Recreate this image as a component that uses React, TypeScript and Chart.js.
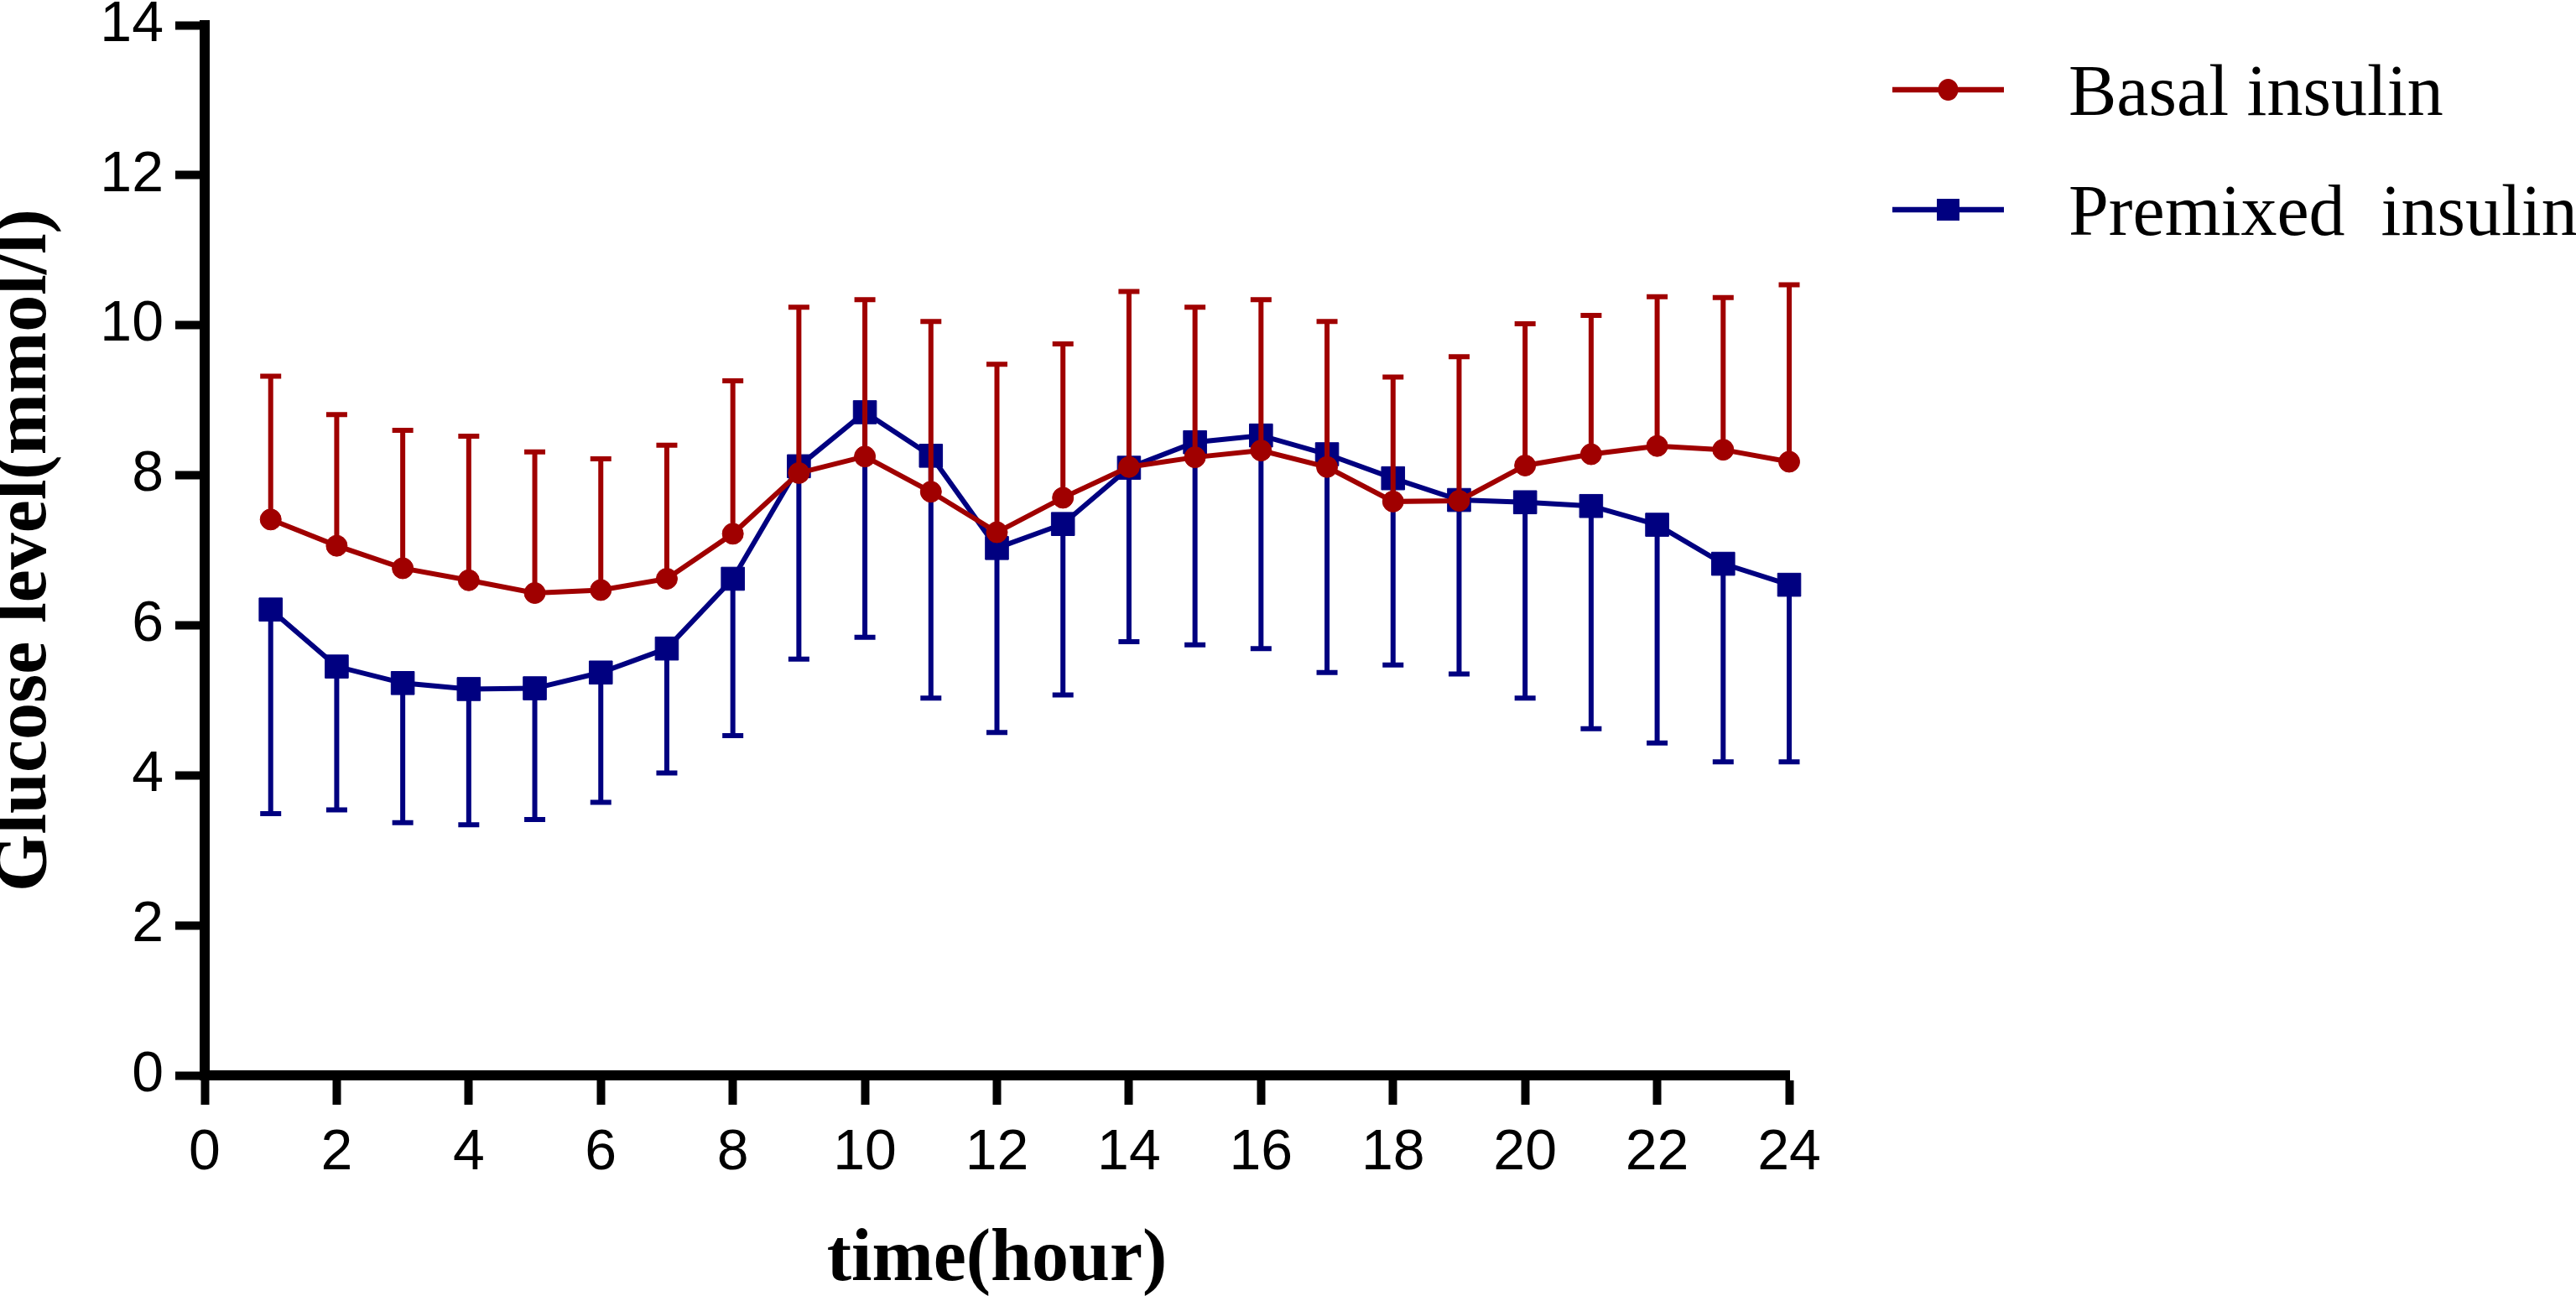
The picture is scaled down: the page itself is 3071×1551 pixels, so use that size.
import React, { useEffect, useRef } from 'react';
import { Chart, registerables } from 'chart.js';

Chart.register(...registerables);

// ---- data ----
const hours = [1, 2, 3, 4, 5, 6, 7, 8, 9, 10, 11, 12, 13, 14, 15, 16, 17, 18, 19, 20, 21, 22, 23, 24];
const basalMean = [7.41, 7.06, 6.76, 6.6, 6.43, 6.47, 6.62, 7.22, 8.03, 8.25, 7.78, 7.24, 7.7, 8.11, 8.24, 8.33, 8.11, 7.65, 7.66, 8.13, 8.28, 8.39, 8.34, 8.18];
const basalSD = [1.91, 1.75, 1.84, 1.92, 1.88, 1.75, 1.78, 2.04, 2.21, 2.09, 2.27, 2.24, 2.05, 2.34, 2.0, 2.01, 1.94, 1.66, 1.92, 1.89, 1.85, 1.99, 2.03, 2.36];
const premixedMean = [6.21, 5.45, 5.23, 5.15, 5.16, 5.37, 5.69, 6.62, 8.12, 8.84, 8.26, 7.03, 7.35, 8.1, 8.44, 8.53, 8.28, 7.96, 7.67, 7.64, 7.59, 7.34, 6.82, 6.54];
const premixedSD = [2.72, 1.91, 1.86, 1.81, 1.75, 1.73, 1.66, 2.09, 2.57, 3.0, 3.23, 2.46, 2.28, 2.32, 2.7, 2.84, 2.91, 2.49, 2.32, 2.61, 2.97, 2.91, 2.64, 2.36];
const xTickValues = [0, 2, 4, 6, 8, 10, 12, 14, 16, 18, 20, 22, 24];
const yTickValues = [0, 2, 4, 6, 8, 10, 12, 14];
const seriesNames = ['Basal insulin', 'Premixed  insulin'];
const xTitle = 'time(hour)';
const yTitle = 'Glucose level(mmol/l)';

const RED = '#A00000';
const BLUE = '#000080';

// error bars: direction +1 = upward (mean + SD), -1 = downward (mean - SD)
const errorInfo: Record<string, { sd: number[]; dir: number }> = {
  [seriesNames[0]]: { sd: basalSD, dir: 1 },
  [seriesNames[1]]: { sd: premixedSD, dir: -1 },
};

const errorBarPlugin = {
  id: 'errorBars',
  beforeDatasetDraw(chart: any, args: any) {
    const ds = chart.data.datasets[args.index];
    const info = errorInfo[ds.label];
    if (!info) return;
    const yScale = chart.scales.y;
    const ctx = chart.ctx;
    ctx.save();
    ctx.strokeStyle = ds.borderColor;
    ctx.lineWidth = 6;
    ctx.lineCap = 'butt';
    args.meta.data.forEach((pt: any, i: number) => {
      const v = ds.data[i].y + info.dir * info.sd[i];
      const py = yScale.getPixelForValue(v);
      ctx.beginPath();
      ctx.moveTo(pt.x, pt.y);
      ctx.lineTo(pt.x, py);
      ctx.moveTo(pt.x - 12.5, py);
      ctx.lineTo(pt.x + 12.5, py);
      ctx.stroke();
    });
    ctx.restore();
  },
};

const sideLegendPlugin = {
  id: 'sideLegend',
  afterDraw(chart: any) {
    const ctx = chart.ctx;
    const right = chart.chartArea.right;
    const x0 = right + 123;
    const x1 = right + 256;
    const xm = (x0 + x1) / 2;
    const xt = right + 333;
    chart.data.datasets.forEach((ds: any, i: number) => {
      const y = 107 + i * 143;
      ctx.save();
      ctx.strokeStyle = ds.borderColor;
      ctx.fillStyle = ds.borderColor;
      ctx.lineWidth = 6.5;
      ctx.beginPath();
      ctx.moveTo(x0, y);
      ctx.lineTo(x1, y);
      ctx.stroke();
      if (ds.pointStyle === 'rect') {
        ctx.fillRect(xm - 13.5, y - 13, 27, 26);
      } else {
        ctx.beginPath();
        ctx.ellipse(xm, y, 12, 13, 0, 0, Math.PI * 2);
        ctx.fill();
      }
      ctx.fillStyle = '#000';
      ctx.font = "86px 'Liberation Serif'";
      ctx.textAlign = 'left';
      ctx.textBaseline = 'alphabetic';
      ctx.fillText(ds.label, xt, y + 30);
      ctx.restore();
    });
  },
};

export default function App() {
  const canvasRef = useRef<HTMLCanvasElement | null>(null);

  useEffect(() => {
    document.body.style.margin = '0';
    const canvas = canvasRef.current;
    if (!canvas) return;

    const makeData = (vals: number[]) => hours.map((h, i) => ({ x: h, y: vals[i] }));

    const tickFont = { family: "'Liberation Sans', Arial, sans-serif", size: 68 };
    const titleFont = { family: "'Liberation Serif', 'Times New Roman', serif", size: 88, weight: 'bold' as const, lineHeight: 0.7 };

    const chart = new Chart(canvas, {
      type: 'line',
      data: {
        datasets: [
          {
            label: seriesNames[0],
            data: makeData(basalMean),
            borderColor: RED,
            backgroundColor: RED,
            pointBackgroundColor: RED,
            pointBorderColor: RED,
            pointStyle: 'circle',
            pointRadius: 12.5,
            pointBorderWidth: 1,
            borderWidth: 6,
            tension: 0,
            fill: false,
          },
          {
            label: seriesNames[1],
            data: makeData(premixedMean),
            borderColor: BLUE,
            backgroundColor: BLUE,
            pointBackgroundColor: BLUE,
            pointBorderColor: BLUE,
            pointStyle: 'rect',
            pointRadius: 19.5,
            pointBorderWidth: 1,
            borderWidth: 6,
            tension: 0,
            fill: false,
          },
        ],
      },
      options: {
        responsive: false,
        animation: false,
        devicePixelRatio: 1,
        events: [],
        clip: false as any,
        layout: { padding: { left: 0, top: 30, right: 938, bottom: 0 } },
        plugins: {
          legend: { display: false },
          tooltip: { enabled: false },
        },
        scales: {
          x: {
            type: 'linear',
            min: 0,
            max: 24,
            afterBuildTicks: (scale: any) => {
              scale.ticks = xTickValues.map((v) => ({ value: v }));
            },
            afterFit: (scale: any) => {
              scale.height = 269;
              scale.paddingLeft = 0;
              scale.paddingRight = 0;
            },
            ticks: { font: tickFont, color: '#000', padding: 17, maxRotation: 0, autoSkip: false },
            grid: { drawOnChartArea: false, drawTicks: true, tickLength: 35, tickWidth: 10, tickColor: '#000' },
            border: { display: true, width: 12, color: '#000' },
            title: { display: true, text: xTitle, font: titleFont, color: '#000', padding: { top: 0, bottom: 17 } },
          },
          y: {
            type: 'linear',
            min: 0,
            max: 14,
            afterBuildTicks: (scale: any) => {
              scale.ticks = yTickValues.map((v) => ({ value: v }));
            },
            afterFit: (scale: any) => {
              scale.width = 244;
              scale.paddingTop = 0;
              scale.paddingBottom = 0;
            },
            ticks: { font: tickFont, color: '#000', padding: 14, autoSkip: false },
            grid: { drawOnChartArea: false, drawTicks: true, tickLength: 35, tickWidth: 10, tickColor: '#000' },
            border: { display: true, width: 12, color: '#000' },
            title: { display: true, text: yTitle, font: titleFont, color: '#000', padding: { top: 0, bottom: 0 } },
          },
        },
      },
      plugins: [errorBarPlugin, sideLegendPlugin],
    });

    return () => {
      chart.destroy();
    };
  }, []);

  return (
    <div style={{ position: 'fixed', left: 0, top: 0, width: 3071, height: 1551, background: '#fff' }}>
      <canvas ref={canvasRef} width={3071} height={1551} style={{ display: 'block', width: 3071, height: 1551 }} />
    </div>
  );
}
